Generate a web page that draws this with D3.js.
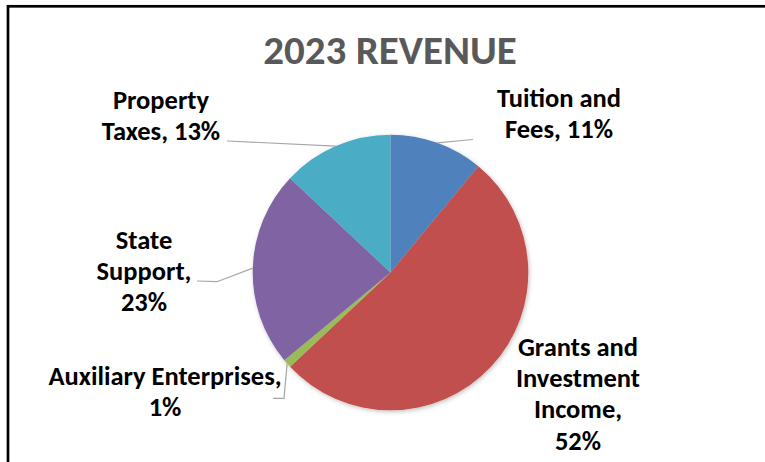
<!DOCTYPE html>
<html>
<head>
<meta charset="utf-8">
<script src="https://cdn.jsdelivr.net/npm/d3@7/dist/d3.min.js"></script>
<style>
  html, body { margin: 0; padding: 0; background: #ffffff; }
  svg { display: block; }
</style>
</head>
<body>
<div id="chart"></div>
<script>
// Revenue sources and their shares (%)
const categories = [
  "Tuition and Fees",
  "Grants and Investment Income",
  "Auxiliary Enterprises",
  "State Support",
  "Property Taxes"
];
const shares = [11, 52, 1, 23, 13];
const colors = ["#4F81BD", "#C0504D", "#9BBB59", "#8064A2", "#4BACC6"];
const chartTitle = "2023 REVENUE";

// Label placement: text lines, centre x, first baseline, leader path start/elbow
const labelLayout = [
  { lines: ["Tuition and", "Fees, 11%"], x: 559, y: 106.5, leader: [[473, 139.5]] },
  { lines: ["Grants and", "Investment", "Income,", "52%"], x: 578, y: 356, leader: null },
  { lines: ["Auxiliary Enterprises,", "1%"], x: 165, y: 385, leader: [[273, 398.3], [284, 398.3]] },
  { lines: ["State", "Support,", "23%"], x: 144, y: 248.5, leader: [[197, 281], [217, 281.7]] },
  { lines: ["Property", "Taxes, 13%"], x: 161, y: 109, leader: [[227, 141]] }
];

const W = 765, H = 462;
const cx = 390.5, cy = 272.5, R = 137.8;
const font = "Carlito, Calibri, Lato, sans-serif";

const svg = d3.select("#chart").append("svg")
  .attr("width", W).attr("height", H);

svg.append("rect").attr("width", W).attr("height", H).attr("fill", "#ffffff");

// Chart frame (continues past the right and bottom of the view)
svg.append("rect")
  .attr("x", 8).attr("y", 6.3)
  .attr("width", 900).attr("height", 600)
  .attr("fill", "none").attr("stroke", "#000000").attr("stroke-width", 2.7);

// Title
svg.append("text")
  .attr("x", 390).attr("y", 64.3)
  .attr("text-anchor", "middle")
  .attr("font-family", font).attr("font-weight", 700)
  .attr("font-size", 41).attr("fill", "#595959")
  .text(chartTitle);

// Soft shadow under the pie
const defs = svg.append("defs");
const f = defs.append("filter").attr("id", "pieShadow")
  .attr("x", "-20%").attr("y", "-20%").attr("width", "140%").attr("height", "140%");
f.append("feDropShadow").attr("dx", 1).attr("dy", 1.5)
  .attr("stdDeviation", 2).attr("flood-color", "#000").attr("flood-opacity", 0.25);

const data = categories.map((c, i) => ({ category: c, value: shares[i], color: colors[i], layout: labelLayout[i] }));

const pie = d3.pie().sort(null).value(d => d.value).startAngle(0).endAngle(2 * Math.PI);
const arcs = pie(data);
const arc = d3.arc().innerRadius(0).outerRadius(R);

const g = svg.append("g").attr("transform", `translate(${cx},${cy})`);
g.append("g").attr("filter", "url(#pieShadow)")
  .selectAll("path").data(arcs).join("path")
  .attr("d", arc)
  .attr("fill", d => d.data.color);

// Leader lines from labels to the middle of each slice's outer edge
const edgePoint = a => {
  const m = (a.startAngle + a.endAngle) / 2;
  return [cx + R * Math.sin(m), cy - R * Math.cos(m)];
};
const line = d3.line();
arcs.forEach(a => {
  const L = a.data.layout;
  if (!L.leader) return;
  svg.append("path")
    .attr("d", line([...L.leader, edgePoint(a)]))
    .attr("fill", "none").attr("stroke", "#A6A6A6").attr("stroke-width", 1.2);
});

// Data labels
const lineGap = 31.2;
arcs.forEach(a => {
  const L = a.data.layout;
  const t = svg.append("text")
    .attr("x", L.x).attr("y", L.y)
    .attr("text-anchor", "middle")
    .attr("font-family", font).attr("font-weight", 700)
    .attr("font-size", 26.5).attr("fill", "#000000");
  L.lines.forEach((s, i) => {
    t.append("tspan").attr("x", L.x).attr("y", L.y + i * lineGap).text(s);
  });
});
</script>
</body>
</html>
